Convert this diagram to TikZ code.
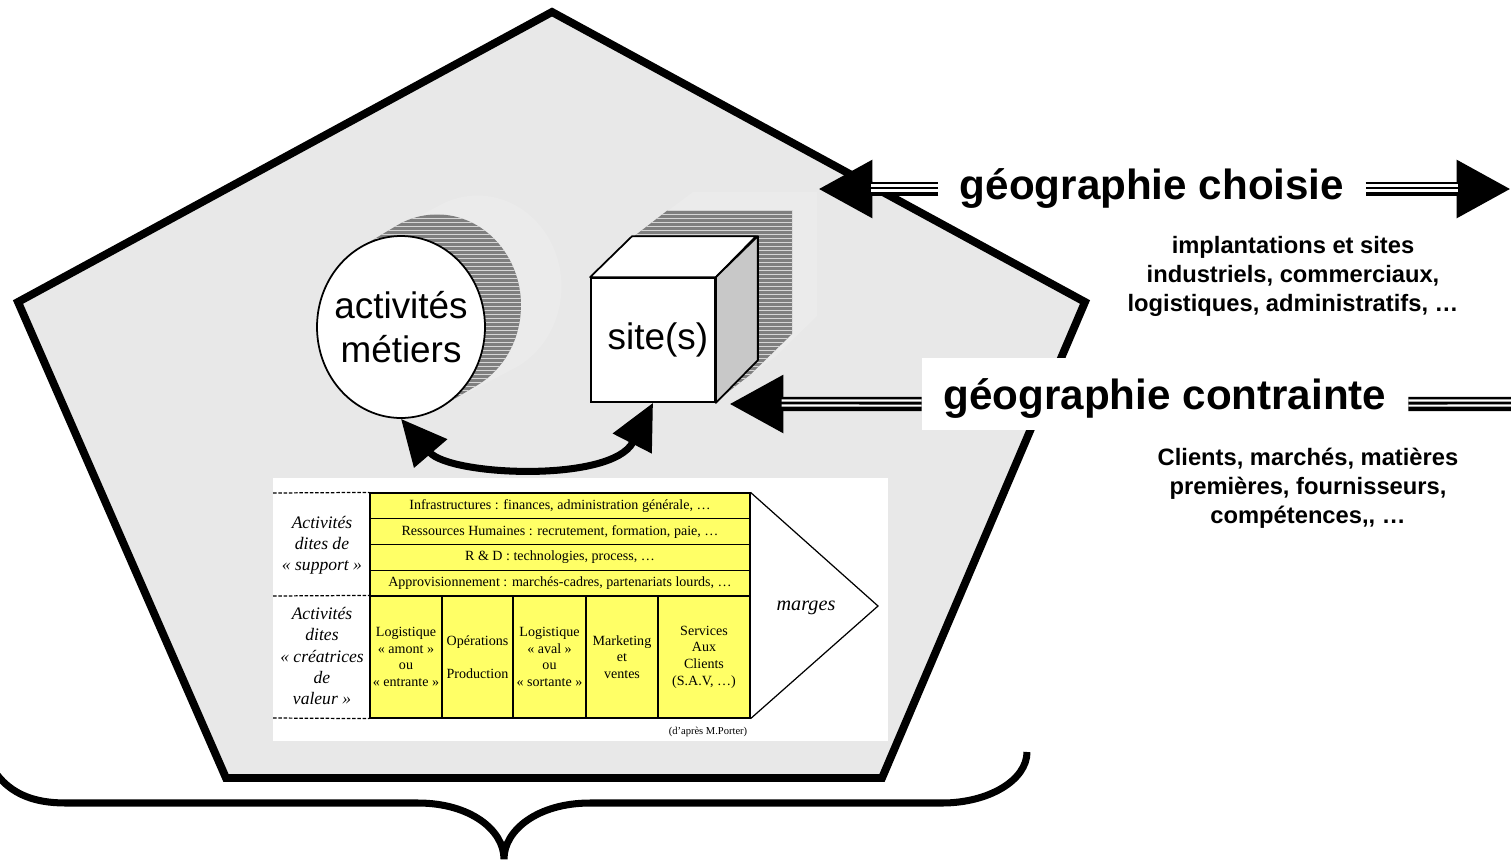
\documentclass[tikz,border=0pt]{standalone}
\usepackage{fontspec}
\setmainfont{Liberation Sans}
\newfontfamily\seriffont{Liberation Serif}
\usetikzlibrary{arrows.meta,shapes.geometric}
\definecolor{panelgray}{HTML}{E8E8E8}
\definecolor{halogray}{HTML}{EBEBEB}
\definecolor{shadowgray}{HTML}{7F7F7F}
\definecolor{sidegray}{HTML}{C8C8C8}
\definecolor{chainyellow}{HTML}{FFFF66}

\begin{document}
\begin{tikzpicture}[x=0.02cm,y=-0.02cm,
  outline/.style={draw=black,line width=4.5pt,line join=miter},
  stripe/.style={draw=black!16,line width=0.55pt},
  bigtip/.style={-{Triangle[length=31pt,width=31pt]}},
  shaftbase/.style={line width=8pt,black},
  shaftgap/.style={white,line width=1.15pt,shorten >=30pt},
  geolabel/.style={font=\fontsize{24}{29}\selectfont\bfseries,inner ysep=0pt},
  subtext/.style={font=\fontsize{13.5}{16.5}\selectfont\bfseries,align=center},
  bigword/.style={font=\fontsize{21}{25}\selectfont,align=center,inner sep=0pt},
  chaincell/.style={draw=black,line width=0.7pt,fill=chainyellow,inner sep=1pt,
    align=center,font=\seriffont\fontsize{8}{9.5}\selectfont},
  supportrow/.style={chaincell,minimum width=7.6cm,minimum height=0.515cm},
  primarycol/.style={chaincell,minimum height=2.44cm},
  sidelabel/.style={align=center,font=\seriffont\itshape\fontsize{10}{12}\selectfont},
  dashline/.style={draw=black,line width=0.7pt,dash pattern=on 2pt off 1pt},
  twoway/.style={line width=4pt,{Triangle[length=26pt,width=24pt]}-{Triangle[length=26pt,width=24pt]}}
]
\useasboundingbox (0,0) rectangle (1511,859);
\fill[white] (0,0) rectangle (1511,859);

% pentagon enclosing the company
\filldraw[outline,fill=panelgray] (552,12) -- (1085,302) -- (882,778) -- (226,778) -- (18,302) -- cycle;

% extruded shadow behind the circle
\begin{scope}
  \clip \foreach \t in {0,0.1,...,1} { (401+85*\t,327-45*\t) ellipse [x radius=1.68cm,y radius=1.82cm] };
  \fill[halogray] (300,150) rectangle (650,450);
\end{scope}
\begin{scope}
  \clip \foreach \t in {0,0.1,...,1} { (401+40*\t,327-24*\t) ellipse [x radius=1.68cm,y radius=1.82cm] };
  \fill[shadowgray] (300,150) rectangle (650,450);
  \foreach \yy in {150,154,...,450} \draw[stripe] (300,\yy) -- (650,\yy);
\end{scope}

% extruded shadow behind the cube
\fill[halogray] (591,278) -- (633,237) -- (693,192) -- (817,192) -- (817,316) -- (775,357) -- (715,402) -- (591,402) -- cycle;
\begin{scope}
  \clip (591,278) -- (633,237) -- (668,210) -- (792,210) -- (792,334) -- (750,375) -- (715,402) -- (591,402) -- cycle;
  \fill[shadowgray] (580,200) rectangle (800,410);
  \foreach \yy in {198,202,...,410} \draw[stripe] (580,\yy) -- (800,\yy);
\end{scope}

% business activities and sites
\node[draw=black,ellipse,fill=white,line width=1pt,minimum width=3.36cm,minimum height=3.64cm,inner sep=0pt,
  label={[bigword]center:activités\\métiers}] (act) at (401,327) {};
\node[draw=black,fill=white,line width=1pt,minimum size=2.48cm,inner sep=0pt,
  label={[bigword,xshift=2.8pt]center:site(s)}] (cube) at (653,340) {};
\filldraw[fill=white,line width=1pt,line join=round] (cube.north west) -- ++(42,-41) -- ++(124,0) -- (cube.north east) -- cycle;
\filldraw[fill=sidegray,line width=1pt,line join=round] (cube.north east) -- ++(42,-41) -- ++(0,124) -- (cube.south east) -- cycle;

\draw[twoway] (act.south) .. controls (450,476) and (612,483) .. (cube.south);

% value chain (after M. Porter)
\node[fill=white,minimum width=12.3cm,minimum height=5.26cm,inner sep=0pt] (porter) at (580.5,609.5) {};
\node[supportrow] (infra) at (560,505.9) {Infrastructures : finances, administration générale, …};
\node[supportrow] (rh) at (560,531.6) {Ressources Humaines : recrutement, formation, paie, …};
\node[supportrow] (rd) at (560,557.4) {R \& D : technologies, process, …};
\node[supportrow] (appro) at (560,583.1) {Approvisionnement : marchés-cadres, partenariats lourds, …};
\node[primarycol,minimum width=1.44cm] (login) at (406,657) {Logistique\\« amont »\\ou\\« entrante »};
\node[primarycol,minimum width=1.42cm] (ops) at (477.5,657) {Opérations\\\mbox{}\\Production};
\node[primarycol,minimum width=1.46cm] (logout) at (549.5,657) {Logistique\\« aval »\\ou\\« sortante »};
\node[primarycol,minimum width=1.44cm] (mkt) at (622,657) {Marketing\\et\\ventes};
\node[primarycol,minimum width=1.84cm] (sav) at (704,657) {Services\\Aux\\Clients\\(S.A.V, …)};

\coordinate (dashA) at (273,493);
\coordinate (dashB) at (273,596);
\coordinate (dashC) at (273,718);
\draw[dashline] (dashA) -- (infra.north west);
\draw[dashline] (dashB) -- (login.north west);
\draw[dashline] (dashC) -- (login.south west);

\coordinate (chevtip) at (878,606);
\draw[line width=0.7pt] (infra.north east) -- (chevtip) -- (sav.south east);

\node[sidelabel] (supportlbl) at (322,545) {Activités\\dites de\\« support »};
\node[sidelabel] (valuelbl) at (322,656) {Activités\\dites\\« créatrices\\de\\valeur »};
\node[font=\seriffont\itshape\fontsize{11.5}{13}\selectfont] (marges) at (806,608) {marges};
\node[font=\seriffont\fontsize{6}{7}\selectfont] (credit) at (708,732) {(d’après M.Porter)};

% chosen geography
\node[geolabel,inner xsep=12pt] (choix) at (1152,189) {géographie choisie};
\coordinate (choixL) at (818,189);
\coordinate (choixR) at (1511,189);
\draw[shaftbase,bigtip] (choix.west) -- (choixL);
\draw[shaftgap,transform canvas={yshift=2pt}] (choix.west) -- (choixL);
\draw[shaftgap,transform canvas={yshift=-0.85pt}] (choix.west) -- (choixL);
\draw[shaftbase,bigtip] (choix.east) -- (choixR);
\draw[shaftgap,transform canvas={yshift=2pt}] (choix.east) -- (choixR);
\draw[shaftgap,transform canvas={yshift=-0.85pt}] (choix.east) -- (choixR);
\node[subtext] (choixdesc) at (1293,276) {implantations et sites\\industriels, commerciaux,\\logistiques, administratifs, …};

% constrained geography
\node[geolabel,fill=white,minimum width=9.72cm,minimum height=1.44cm,inner sep=0pt,text height=20pt,text depth=1.8pt] (contr) at (1165,394) {géographie contrainte};
\coordinate (contrL) at (729,404);
\coordinate (contrR) at (1530,404);
\draw[shaftbase,bigtip] ([yshift=-5.7pt]contr.west) -- (contrL);
\draw[shaftgap,transform canvas={yshift=2pt}] ([yshift=-5.7pt]contr.west) -- (contrL);
\draw[shaftgap,transform canvas={yshift=-0.85pt}] ([yshift=-5.7pt]contr.west) -- (contrL);
\draw[shaftbase] ([yshift=-5.7pt]contr.east) -- (contrR);
\draw[white,line width=1.15pt,transform canvas={yshift=2pt}] ([yshift=-5.7pt]contr.east) -- (contrR);
\draw[white,line width=1.15pt,transform canvas={yshift=-0.85pt}] ([yshift=-5.7pt]contr.east) -- (contrR);
\node[subtext] (contrdesc) at (1308,488) {Clients, marchés, matières\\premières, fournisseurs,\\compétences,\kern0pt, …};

% brace under the pentagon
\draw[line width=4pt] (-12,760) .. controls (5,795) and (35,803) .. (66,803) -- (418,803)
  .. controls (470,803) and (504,830) .. (504,859)
  .. controls (504,830) and (538,803) .. (590,803) -- (942,803)
  .. controls (989,803) and (1027,780) .. (1027,752);
\end{tikzpicture}
\end{document}
